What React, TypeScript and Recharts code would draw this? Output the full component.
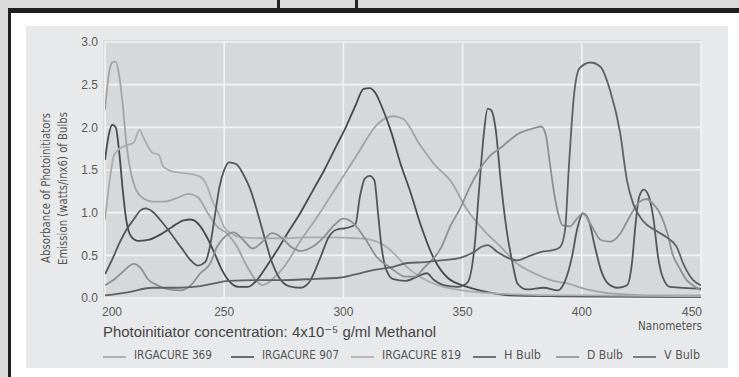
import React from 'react';
import { LineChart, Line, XAxis, YAxis, CartesianGrid } from 'recharts';

// ---------- data ----------
const xTicks = [200, 250, 300, 350, 400, 450];
const yTicks = [0, 0.5, 1, 1.5, 2, 2.5, 3];

const irg369Nm = [200, 201.5, 203, 204.5, 206, 207.5, 209, 211, 213, 216, 220, 225, 230, 235, 239, 243, 247, 251, 255, 259, 263, 266, 268, 271, 275, 282, 289, 298, 306, 314, 318, 321, 325, 332, 338, 345, 352, 359, 366, 373, 380, 387, 394, 402, 410, 420, 435, 450];
const irg369Abs = [2.2, 2.6, 2.76, 2.77, 2.6, 2.25, 1.8, 1.45, 1.27, 1.17, 1.13, 1.13, 1.17, 1.22, 1.18, 1.0, 0.84, 0.76, 0.62, 0.4, 0.22, 0.15, 0.17, 0.24, 0.36, 0.67, 0.95, 1.34, 1.69, 2.03, 2.11, 2.13, 2.1, 1.8, 1.57, 1.37, 1.03, 0.79, 0.6, 0.4, 0.29, 0.21, 0.17, 0.1, 0.06, 0.04, 0.03, 0.03];

const irg907Nm = [200, 201.5, 203, 204.5, 206, 207.5, 209, 211, 214, 218, 223, 228, 233, 236, 240, 243, 246, 249, 252, 256, 260, 264, 268, 272, 277, 282, 287, 292, 297, 301, 305, 308.5, 311, 313.5, 316, 320, 324, 328, 332.5, 338, 343.6, 352, 362, 370, 390, 450];
const irg907Abs = [1.62, 1.9, 2.03, 2.0, 1.7, 1.25, 0.9, 0.72, 0.67, 0.68, 0.74, 0.83, 0.91, 0.92, 0.84, 0.7, 0.52, 0.33, 0.2, 0.13, 0.13, 0.22, 0.38, 0.55, 0.78, 1.0, 1.25, 1.5, 1.78, 2.0, 2.25, 2.45, 2.46, 2.4, 2.25, 1.95, 1.57, 1.25, 0.85, 0.46, 0.24, 0.13, 0.06, 0.03, 0.02, 0.01];

const irg819Nm = [200, 202, 203.6, 205, 209, 212, 214.5, 216, 220, 222.5, 224.5, 228.7, 234, 240, 243, 245, 247.5, 250, 254, 258, 265, 275, 285, 295, 305, 310, 314, 318, 322, 326, 331, 336, 342, 350, 360, 375, 400, 450];
const irg819Abs = [0.92, 1.38, 1.66, 1.72, 1.79, 1.82, 1.97, 1.89, 1.7, 1.68, 1.54, 1.48, 1.46, 1.42, 1.3, 1.14, 1.0, 0.83, 0.74, 0.71, 0.7, 0.7, 0.71, 0.71, 0.7, 0.69, 0.66, 0.6, 0.5, 0.38, 0.27, 0.19, 0.13, 0.09, 0.06, 0.04, 0.03, 0.02];

const hBulbNm = [200, 203, 206, 209, 212, 215, 217, 220, 223, 227, 232, 236, 239, 242, 244, 246, 248, 250, 252, 255, 258, 261, 264, 267, 270, 273, 277, 282, 286, 290, 294, 297, 301, 305, 307, 309, 311, 313, 314.5, 316, 318, 321, 326, 331, 335, 338, 342, 348, 352, 355, 357, 359, 360.5, 362, 364, 366, 368.5, 371, 373, 377, 384, 390, 393, 396, 398, 400.5, 403, 405.5, 408, 411, 415, 419, 421, 422.5, 424, 426, 428, 430, 432, 434, 437, 450];
const hBulbOut = [0.28, 0.45, 0.64, 0.8, 0.92, 1.03, 1.05, 1.01, 0.92, 0.78, 0.59, 0.44, 0.38, 0.42, 0.6, 0.95, 1.3, 1.5, 1.59, 1.57, 1.45, 1.27, 1.0, 0.7, 0.42, 0.24, 0.14, 0.12, 0.2, 0.45, 0.72, 0.8, 0.82, 0.86, 1.2, 1.4, 1.43, 1.38, 1.0, 0.6, 0.33, 0.22, 0.2, 0.25, 0.29, 0.21, 0.15, 0.13, 0.18, 0.6, 1.3, 1.95, 2.22, 2.2, 1.95, 1.37, 0.79, 0.4, 0.17, 0.1, 0.12, 0.09, 0.2, 0.5, 0.8, 0.99, 0.9, 0.6, 0.33, 0.17, 0.12, 0.15, 0.4, 0.85, 1.18, 1.27, 1.2, 0.94, 0.48, 0.24, 0.13, 0.11];

const dBulbNm = [200, 204, 208, 212, 215, 218, 222, 227, 232, 236, 240, 244, 247, 250, 254, 258, 262, 266, 270, 274, 278, 282, 287, 292, 296, 300, 304, 309, 314, 320, 326, 330, 334, 341, 345, 349, 353, 357, 362, 366, 373, 380, 383, 385, 386.5, 388, 390, 392, 395, 398, 400.5, 404, 408, 412, 416, 420, 424, 427, 430, 433, 436, 438, 441, 444, 447, 450];
const dBulbOut = [0.15, 0.22, 0.32, 0.4, 0.35, 0.22, 0.15, 0.1, 0.09, 0.15, 0.29, 0.4, 0.6, 0.71, 0.77, 0.68, 0.58, 0.66, 0.76, 0.71, 0.6, 0.55, 0.6, 0.72, 0.85, 0.93, 0.88, 0.7, 0.48, 0.35, 0.25, 0.25, 0.36, 0.59, 0.85, 1.05, 1.3, 1.5, 1.68, 1.76, 1.92, 1.99, 2.01, 1.9, 1.6, 1.3, 1.0, 0.85, 0.84, 0.93, 0.99, 0.85, 0.68, 0.66, 0.75, 0.95, 1.12, 1.16, 1.1, 0.98, 0.75, 0.52, 0.35, 0.21, 0.14, 0.09];

const vBulbNm = [200, 210, 220, 230, 240, 252, 263, 275, 285, 299, 307, 313, 320, 327, 334, 341, 349, 354.7, 358, 360.5, 364.6, 369, 373, 377, 383, 388, 391, 393, 394.5, 396.6, 399, 403.6, 407.8, 412, 416, 419, 421.6, 425.8, 431, 435.6, 439.8, 442.6, 446.7, 450];
const vBulbOut = [0.03, 0.07, 0.12, 0.12, 0.14, 0.2, 0.21, 0.21, 0.22, 0.24, 0.29, 0.33, 0.36, 0.41, 0.42, 0.44, 0.47, 0.54, 0.6, 0.62, 0.54, 0.47, 0.44, 0.48, 0.54, 0.56, 0.6, 0.8, 1.5, 2.34, 2.69, 2.76, 2.71, 2.42, 1.95, 1.37, 1.1, 0.9, 0.79, 0.71, 0.6, 0.4, 0.21, 0.15];

const seriesNames = ['IRGACURE 369', 'IRGACURE 907', 'IRGACURE 819', 'H Bulb', 'D Bulb', 'V Bulb'];
const seriesNm = [irg369Nm, irg907Nm, irg819Nm, hBulbNm, dBulbNm, vBulbNm];
const seriesVal = [irg369Abs, irg907Abs, irg819Abs, hBulbOut, dBulbOut, vBulbOut];

// ---------- styles ----------
const seriesColors = ['#a3a3a3', '#4a4a4a', '#ababab', '#555555', '#8f8f8f', '#606060'];
const legendX = [103, 231, 351, 473, 556, 633];
const legendTextW = [78, 77, 79, 37, 36, 36];

const toPoints = (nm: number[], v: number[]) => nm.map((n, i) => ({ nm: n, v: v[i] }));

const XTick = (props: any) => {
  const { x, y, payload, index } = props;
  const anchor = index === 0 ? 'start' : index === xTicks.length - 1 ? 'end' : 'middle';
  const dx = index === 0 ? -3 : index === xTicks.length - 1 ? 1 : 0;
  return (
    <text x={x + dx} y={y} dy="0.71em" textAnchor={anchor} fill="#5a5a5a" fontSize={12}
      fontFamily="'Liberation Sans', Arial, sans-serif">{payload.value}</text>
  );
};

const narrow = "'Liberation Sans Narrow', 'DejaVu Sans Condensed', 'Liberation Sans', sans-serif";

export default function App() {
  return (
    <div style={{ position: 'relative', width: 739, height: 377, background: '#dadada', overflow: 'hidden' }}>
      <style>{'body{margin:0}'}</style>
      {/* cropped title descenders */}
      <div style={{ position: 'absolute', left: 277, top: 0, width: 3, height: 8, background: '#222' }} />
      <div style={{ position: 'absolute', left: 355, top: 0, width: 3, height: 8, background: '#222' }} />
      {/* frame */}
      <div style={{ position: 'absolute', left: 8, top: 8, width: 731, height: 5, background: '#1f1f1f' }} />
      <div style={{ position: 'absolute', left: 8, top: 8, width: 3, height: 369, background: '#1f1f1f' }} />
      <div style={{ position: 'absolute', left: 11, top: 13, width: 728, height: 364, background: '#ffffff' }} />
      {/* panel */}
      <div style={{ position: 'absolute', left: 26, top: 26, width: 702, height: 342, background: '#e8e9ea' }} />
      {/* plot background */}
      <div style={{ position: 'absolute', left: 103, top: 40, width: 598, height: 258, background: '#d7d8da' }} />
      <div style={{ position: 'absolute', left: 0, top: 0 }}>
        <LineChart width={739} height={377} margin={{ top: 42, right: 38, bottom: 49, left: 65 }}>
          <CartesianGrid stroke="#f3f3f3" strokeWidth={1.6} />
          <XAxis dataKey="nm" type="number" domain={[200, 450]} ticks={xTicks} allowDataOverflow
            axisLine={false} tickLine={false} tickSize={0} tickMargin={9} height={30} tick={<XTick />} interval={0} />
          <YAxis type="number" domain={[0, 3]} ticks={yTicks} width={40} axisLine={false} tickLine={false}
            tickSize={0} tickMargin={7} tickFormatter={(v: number) => v.toFixed(1)}
            tick={{ fill: '#5a5a5a', fontSize: 12, fontFamily: "'Liberation Sans', Arial, sans-serif" }} interval={0} />
          {seriesNames.map((name, i) => (
            <Line key={name} name={name} data={toPoints(seriesNm[i], seriesVal[i])} dataKey="v" type="monotone"
              stroke={seriesColors[i]} strokeWidth={1.8} dot={false} isAnimationActive={false} />
          ))}
        </LineChart>
      </div>
      <svg width={739} height={377} style={{ position: 'absolute', left: 0, top: 0, pointerEvents: 'none' }}>
        <text transform="translate(46,188) rotate(-90)" textAnchor="middle" dominantBaseline="central"
          fontSize={11.5} fill="#555" fontFamily={narrow} textLength={150} lengthAdjust="spacingAndGlyphs">
          Absorbance of Photoinitiators
        </text>
        <text transform="translate(63,188.5) rotate(-90)" textAnchor="middle" dominantBaseline="central"
          fontSize={11.5} fill="#555" fontFamily={narrow} textLength={153} lengthAdjust="spacingAndGlyphs">
          Emission (watts/inx6) of Bulbs
        </text>
        <text x={103} y={336.5} fontSize={15.5} fill="#444" fontFamily="'Liberation Sans', 'DejaVu Sans', Arial, sans-serif"
          textLength={333} lengthAdjust="spacingAndGlyphs">
          Photoinitiator concentration: 4x10⁻⁵ g/ml Methanol
        </text>
        <text x={702} y={330} textAnchor="end" fontSize={11.5} fill="#555" fontFamily={narrow}
          textLength={64} lengthAdjust="spacingAndGlyphs">Nanometers</text>
        {seriesNames.map((name, i) => (
          <g key={name}>
            <line x1={legendX[i]} x2={legendX[i] + 23} y1={357} y2={357} stroke={seriesColors[i]} strokeWidth={1.6} />
            <text x={legendX[i] + 31} y={358.5} fontSize={13} fill="#555" fontFamily={narrow}
              textLength={legendTextW[i]} lengthAdjust="spacingAndGlyphs">{name}</text>
          </g>
        ))}
      </svg>
    </div>
  );
}
